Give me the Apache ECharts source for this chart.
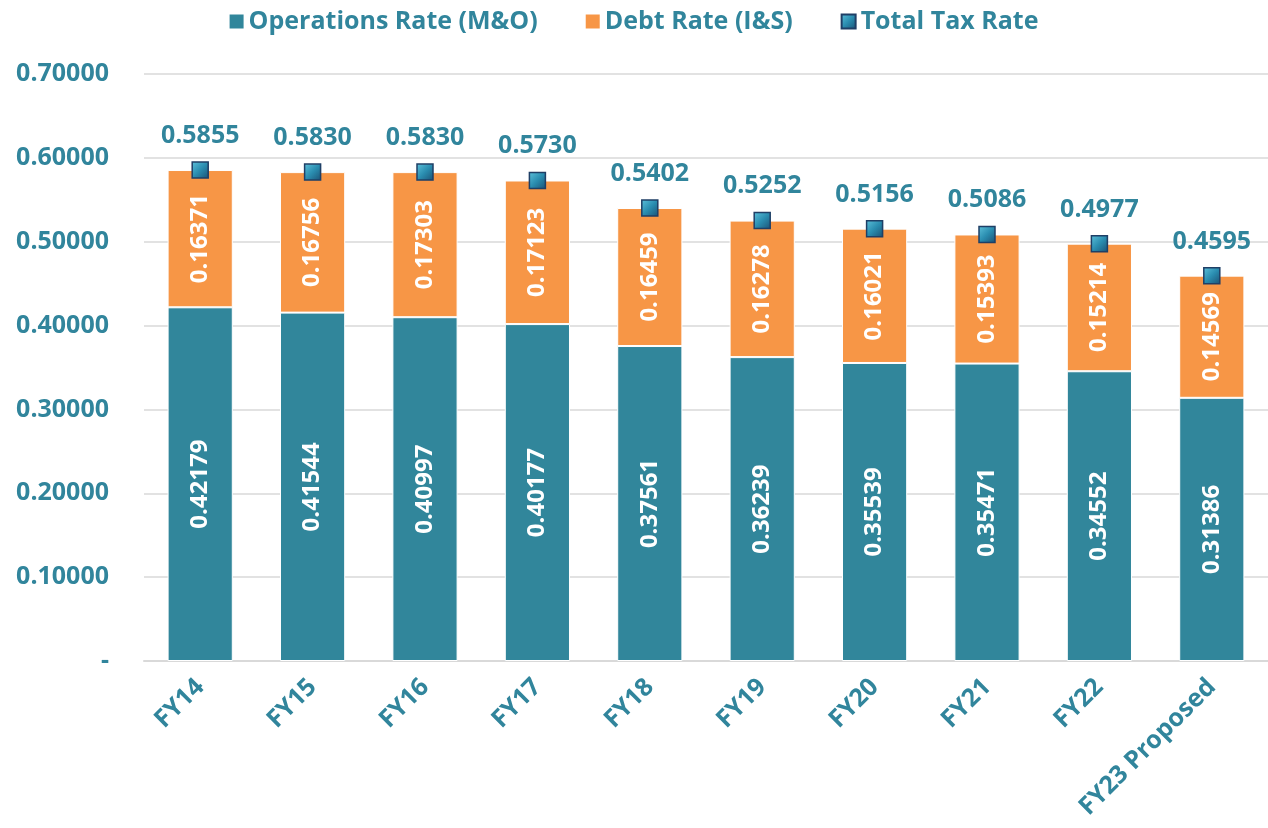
<!DOCTYPE html>
<html><head><meta charset="utf-8">
<script src="https://cdn.jsdelivr.net/npm/echarts@6/dist/echarts.min.js"></script>
<style>html,body{margin:0;padding:0;background:#fff}#c{width:1268px;height:828px}</style>
</head><body><div id="c"></div>
<script>
const categories = ['FY14','FY15','FY16','FY17','FY18','FY19','FY20','FY21','FY22','FY23 Proposed'];
const operations = [0.42179,0.41544,0.40997,0.40177,0.37561,0.36239,0.35539,0.35471,0.34552,0.31386];
const debt = [0.16371,0.16756,0.17303,0.17123,0.16459,0.16278,0.16021,0.15393,0.15214,0.14569];
const total = [0.5855,0.5830,0.5830,0.5730,0.5402,0.5252,0.5156,0.5086,0.4977,0.4595];

const TEAL = '#31869B', ORANGE = '#F79646', TXT = '#31859C';
const FONT = '"Open Sans", sans-serif';
const chart = echarts.init(document.getElementById('c'));
chart.setOption({
  animation: false,
  textStyle: {fontFamily: FONT},
  legend: {
    top: 4, left: 'center', itemGap: 48, itemWidth: 14, itemHeight: 14,
    textStyle: {color: TXT, fontSize: 25, fontWeight: 'bold', fontFamily: FONT},
    data: [
      {name: 'Operations Rate (M&O)', icon: 'rect', itemStyle: {borderWidth: 0}},
      {name: 'Debt Rate (I&S)', icon: 'rect', itemStyle: {borderWidth: 0}},
      {name: 'Total Tax Rate'}
    ]
  },
  grid: {left: 144, top: 74, width: 1133, bottom: 167},
  xAxis: {
    type: 'category', data: categories,
    axisLine: {lineStyle: {color: '#d9d9d9', width: 2}},
    axisTick: {show: false},
    axisLabel: {rotate: 45, margin: 22, color: TXT, fontSize: 25, fontWeight: 'bold', fontFamily: FONT, interval: 0}
  },
  yAxis: {
    type: 'value', min: 0, max: 0.7, interval: 0.1,
    axisLine: {show: false}, axisTick: {show: false},
    splitLine: {lineStyle: {color: '#d9d9d9', width: 1.5}},
    axisLabel: {margin: 35, color: TXT, fontSize: 25, fontWeight: 'bold', fontFamily: FONT,
      formatter: v => v === 0 ? '-' : v.toFixed(5)}
  },
  series: [
    {
      name: 'Operations Rate (M&O)', type: 'bar', stack: 't', data: operations, barWidth: '58%',
      itemStyle: {color: TEAL, borderColor: '#fff', borderWidth: 1},
      label: {show: true, position: 'inside', rotate: 90, color: '#fff', fontSize: 24, fontWeight: 'bold', fontFamily: FONT,
        formatter: p => p.value.toFixed(5)}
    },
    {
      name: 'Debt Rate (I&S)', type: 'bar', stack: 't', data: debt,
      itemStyle: {color: ORANGE, borderColor: '#fff', borderWidth: 1},
      label: {show: true, position: 'inside', rotate: 90, color: '#fff', fontSize: 24, fontWeight: 'bold', fontFamily: FONT,
        formatter: p => p.value.toFixed(5)}
    },
    {
      name: 'Total Tax Rate', type: 'scatter', data: total, symbol: 'rect', symbolSize: 16, z: 5,
      itemStyle: {
        opacity: 1,
        color: new echarts.graphic.LinearGradient(0, 0, 1, 1, [
          {offset: 0, color: '#5fc3dc'}, {offset: 0.5, color: '#2a8db0'}, {offset: 1, color: '#1b4f72'}
        ]),
        borderColor: '#1f3f66', borderWidth: 1.5
      },
      label: {show: true, position: 'top', distance: 13, color: TXT, fontSize: 25, fontWeight: 'bold', fontFamily: FONT,
        formatter: p => p.value.toFixed(4)}
    }
  ]
});
</script></body></html>
